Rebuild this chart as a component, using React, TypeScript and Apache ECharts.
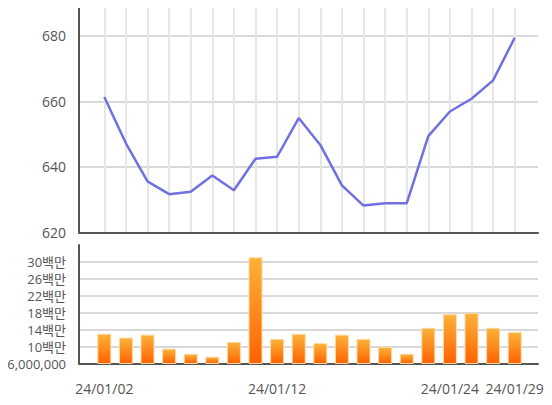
import React, { useEffect, useRef } from "react";
import * as echarts from "echarts";

const dates = [
  "24/01/02", "24/01/03", "24/01/04", "24/01/05", "24/01/08",
  "24/01/09", "24/01/10", "24/01/11", "24/01/12", "24/01/15",
  "24/01/16", "24/01/17", "24/01/18", "24/01/19", "24/01/22",
  "24/01/23", "24/01/24", "24/01/25", "24/01/26", "24/01/29",
];
const prices = [
  661.3, 647.2, 635.6, 631.7, 632.4, 637.4, 632.9, 642.5, 643.1, 654.9,
  646.7, 634.4, 628.2, 628.9, 628.9, 649.4, 656.9, 660.8, 666.4, 679.4,
];
const volumes = [
  13.0e6, 12.1e6, 12.8e6, 9.5e6, 8.3e6, 7.6e6, 11.1e6, 31.0e6, 11.8e6, 13.0e6,
  10.8e6, 12.8e6, 11.8e6, 9.9e6, 8.3e6, 14.4e6, 17.6e6, 17.9e6, 14.4e6, 13.4e6,
];
const shownLabelIdx = [0, 8, 16, 19];

const FONT = "'Open Sans', 'Noto Sans CJK KR', sans-serif";
const TXT = "#555";

export default function App() {
  const ref = useRef<HTMLDivElement>(null);
  useEffect(() => {
    if (!ref.current) return;
    const chart = echarts.init(ref.current, null, { renderer: "svg" });
    const topG = { top: 3, height: 229.5 };
    const botG = { top: 245, height: 118.5 };
    const bgLR = { left: 79, right: 14 };
    const dLR = { left: 104.3, right: 37.3 };
    const bLR = { left: 93.5, right: 26.5 };
    const hiddenX = (gi: number, showLine: boolean) => ({
      type: "value", gridIndex: gi, min: 0, max: 1,
      axisLine: { show: showLine, onZero: false, lineStyle: { color: "#555", width: 2 } },
      axisTick: { show: false }, axisLabel: { show: false }, splitLine: { show: false },
    });
    chart.setOption({
      animation: false,
      textStyle: { fontFamily: FONT },
      grid: [
        { ...bgLR, ...topG },
        { ...dLR, ...topG },
        { ...bgLR, ...botG },
        { ...bLR, ...botG },
      ],
      xAxis: [
        hiddenX(0, true),
        {
          type: "category", gridIndex: 1, data: dates, boundaryGap: false,
          axisLine: { show: false }, axisTick: { show: false }, axisLabel: { show: false },
          splitLine: { show: true, interval: 0, lineStyle: { color: "#e6e6e6", width: 2 } },
        },
        hiddenX(2, true),
        {
          type: "category", gridIndex: 3, data: dates, boundaryGap: true,
          axisLine: { show: false }, axisTick: { show: false },
          splitLine: { show: false },
          axisLabel: {
            show: true, interval: (i: number) => shownLabelIdx.includes(i),
            color: TXT, fontSize: 14, margin: 18, fontFamily: FONT,
          },
        },
      ],
      yAxis: [
        {
          type: "value", gridIndex: 0, min: 620, max: 690, interval: 20,
          axisLine: { show: true, lineStyle: { color: "#555", width: 2 } },
          axisTick: { show: false },
          axisLabel: { color: TXT, fontSize: 14, margin: 13, showMaxLabel: false, fontFamily: FONT },
          splitLine: { show: true, showMaxLine: false, showMinLine: false, lineStyle: { color: "#d9d9d9", width: 2 } },
        },
        { type: "value", gridIndex: 1, min: 620, max: 690, show: false, splitLine: { show: false } },
        {
          type: "value", gridIndex: 2, min: 6e6, max: 33.9e6, interval: 4e6,
          axisLine: { show: true, lineStyle: { color: "#555", width: 2 } },
          axisTick: { show: false },
          axisLabel: {
            color: TXT, fontSize: 13, margin: 13, showMaxLabel: false, fontFamily: FONT,
            formatter: (v: number) =>
              v === 6e6 ? "6,000,000" : `${Math.round(v / 1e6)}백만`,
          },
          splitLine: { show: true, showMaxLine: false, showMinLine: false, lineStyle: { color: "#d9d9d9", width: 2 } },
        },
        { type: "value", gridIndex: 3, min: 6e6, max: 33.9e6, show: false, splitLine: { show: false } },
      ],
      series: [
        {
          type: "line", xAxisIndex: 1, yAxisIndex: 1, data: prices,
          symbol: "none", lineStyle: { color: "#7070e0", width: 2.5 },
        },
        {
          type: "bar", xAxisIndex: 3, yAxisIndex: 3, data: volumes, barWidth: 14, clip: true,
          itemStyle: {
            borderColor: "#fdd9a4", borderWidth: 1,
            color: new echarts.graphic.LinearGradient(0, 0, 0, 1, [
              { offset: 0, color: "#fbb23a" },
              { offset: 1, color: "#ff6200" },
            ]),
          },
        },
      ],
    });
    return () => chart.dispose();
  }, []);
  return <div ref={ref} style={{ width: 552, height: 405, margin: -8 }} />;
}
